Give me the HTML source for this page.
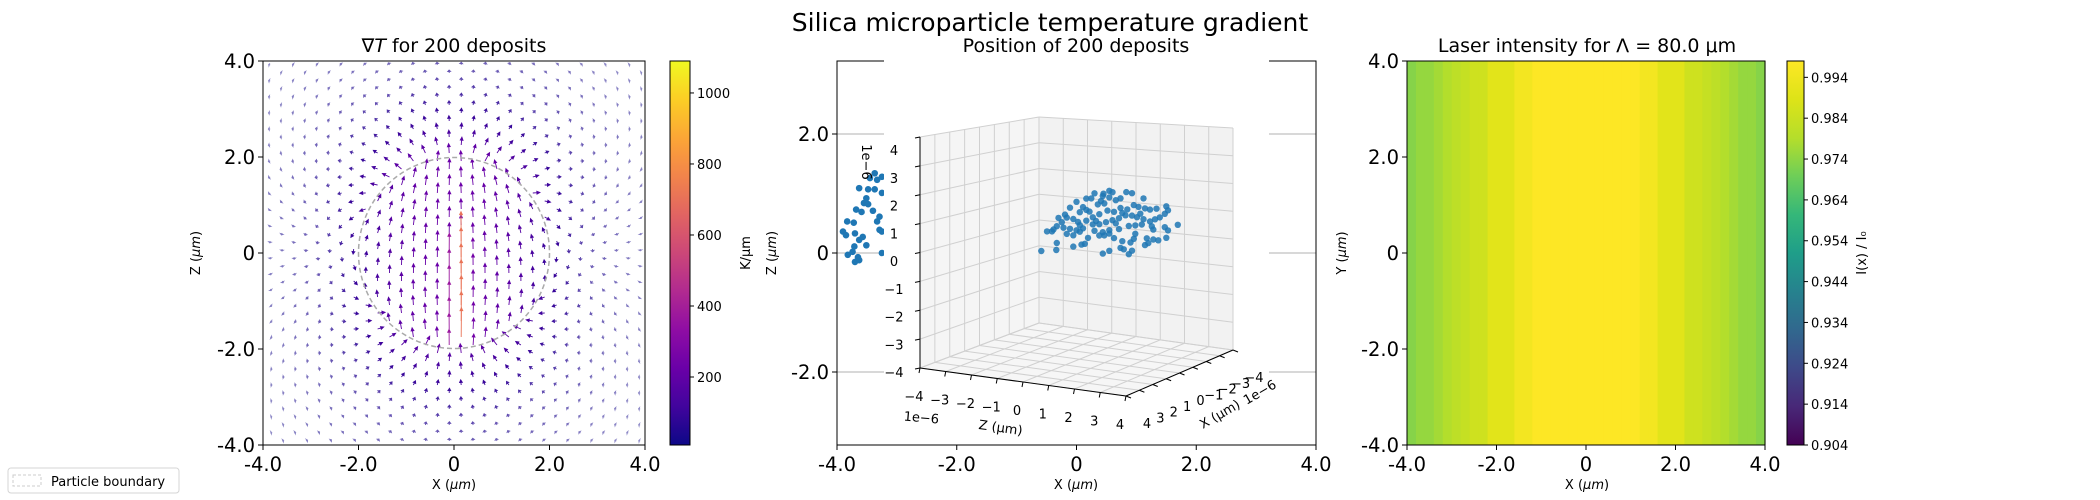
<!DOCTYPE html>
<html><head><meta charset="utf-8">
<style>
html,body{margin:0;padding:0;background:#fff;width:2100px;height:500px;overflow:hidden;}
svg{display:block;font-family:"DejaVu Sans","Liberation Sans",sans-serif;}
</style></head>
<body>
<svg id="fig" width="2100" height="500" viewBox="0 0 2100 500" xmlns="http://www.w3.org/2000/svg">
<defs>
<clipPath id="clipL"><rect x="263" y="61" width="382" height="384"/></clipPath>
<clipPath id="clipSide"><rect x="837" y="61" width="47" height="384"/></clipPath>
<linearGradient id="plasmaGrad" x1="0" y1="1" x2="0" y2="0">
<stop offset="0" stop-color="#0d0887"/><stop offset="0.1" stop-color="#41049d"/><stop offset="0.2" stop-color="#6a00a8"/><stop offset="0.3" stop-color="#8f0da4"/><stop offset="0.4" stop-color="#b12a90"/><stop offset="0.5" stop-color="#cc4778"/><stop offset="0.6" stop-color="#e16462"/><stop offset="0.7" stop-color="#f2844b"/><stop offset="0.8" stop-color="#fca636"/><stop offset="0.9" stop-color="#fcce25"/><stop offset="1" stop-color="#f0f921"/>
</linearGradient>
<linearGradient id="viridisGrad" x1="0" y1="1" x2="0" y2="0">
<stop offset="0" stop-color="#440154"/><stop offset="0.1" stop-color="#482878"/><stop offset="0.2" stop-color="#3e4989"/><stop offset="0.3" stop-color="#31688e"/><stop offset="0.4" stop-color="#26828e"/><stop offset="0.5" stop-color="#1f9e89"/><stop offset="0.6" stop-color="#35b779"/><stop offset="0.7" stop-color="#6ece58"/><stop offset="0.8" stop-color="#b5de2b"/><stop offset="0.9" stop-color="#dde318"/><stop offset="1" stop-color="#fde725"/>
</linearGradient>
</defs>

<text x="1050" y="31" font-size="25" text-anchor="middle">Silica microparticle temperature gradient</text>

<g id="leftPanel">
<text x="454" y="52" font-size="19" text-anchor="middle">∇<tspan font-style="italic">T</tspan> for 200 deposits</text>
<g id="quiver" clip-path="url(#clipL)"></g>
<circle cx="454" cy="253" r="95.5" fill="none" stroke="#aaaaaa" stroke-width="1.5" stroke-dasharray="5,3"/>
<rect x="263" y="61" width="382" height="384" fill="none" stroke="#000" stroke-width="1"/>
<text x="454" y="489" font-size="13" text-anchor="middle">X (<tspan font-style="italic">μm</tspan>)</text>
<text transform="translate(200,253) rotate(-90)" font-size="13" text-anchor="middle">Z (<tspan font-style="italic">μm</tspan>)</text>
<rect x="670" y="61" width="20" height="384" fill="url(#plasmaGrad)" stroke="#000" stroke-width="1"/>
<text transform="translate(750,253) rotate(-90)" font-size="13" text-anchor="middle">K/μm</text>
</g>

<g>
<rect x="8" y="468" width="171" height="25" rx="3" fill="#fff" stroke="#d5d5d5"/>
<rect x="13" y="475" width="28" height="11" fill="none" stroke="#cccccc" stroke-dasharray="3,2"/>
<text x="51" y="486" font-size="13">Particle boundary</text>
</g>

<g id="midPanel">
<g id="mid2d"></g>
<g id="sideScatter" clip-path="url(#clipSide)"></g>
<rect x="884" y="59" width="385" height="384" fill="#fff"/>
<g id="axes3d"></g>
<text x="1076" y="52" font-size="19" text-anchor="middle">Position of 200 deposits</text>
<text x="1076" y="489" font-size="13" text-anchor="middle">X (<tspan font-style="italic">μm</tspan>)</text>
<text transform="translate(776,253) rotate(-90)" font-size="13" text-anchor="middle">Z (<tspan font-style="italic">μm</tspan>)</text>
</g>

<g id="rightPanel">
<text x="1587" y="52" font-size="19" text-anchor="middle">Laser intensity for Λ = 80.0 μm</text>
<g id="heat"></g>
<rect x="1407" y="61" width="358" height="384" fill="none" stroke="#000" stroke-width="1"/>
<text x="1587" y="489" font-size="13" text-anchor="middle">X (<tspan font-style="italic">μm</tspan>)</text>
<text transform="translate(1346,253) rotate(-90)" font-size="13" text-anchor="middle">Y (<tspan font-style="italic">μm</tspan>)</text>
<rect x="1787" y="61" width="17" height="384" fill="url(#viridisGrad)" stroke="#000" stroke-width="1"/>
<text transform="translate(1866,253) rotate(-90)" font-size="13" text-anchor="middle">I(x) / I₀</text>
</g>
</svg>

<script>
const axisTicks = [-4, -2, 0, 2, 4];
const axisTickLabels = ['-4.0', '-2.0', '0', '2.0', '4.0'];
const midYTicks = [-2, 0, 2];
const midYTickLabels = ['-2.0', '0', '2.0'];
const gradCbTicks = [200, 400, 600, 800, 1000];
const gradCbRange = [8.5, 1090];
const laserCbTicks = [0.904, 0.914, 0.924, 0.934, 0.944, 0.954, 0.964, 0.974, 0.984, 0.994];
const laserCbRange = [0.904, 0.998];
const laserI = [0.973,0.975,0.975,0.977,0.979,0.981,0.983,0.985,0.985,0.990,0.990,0.990,0.995,0.995,
0.998,0.998,0.998,0.998,0.998,0.998,0.998,0.998,0.998,0.998,0.998,0.998,
0.995,0.995,0.990,0.990,0.990,0.985,0.985,0.983,0.981,0.979,0.977,0.975,0.975,0.973];
const fieldInside = [230];
const fieldSpike = [520];
const spikeZRange = [-2.0, 0.4];
const depZ = [0.60,0.96,1.19,1.32,1.87,2.10,2.56,1.64,1.45,0.86,0.99,0.73,0.47,-0.12,0.14,0.27,0.01,-0.38,-0.58,-0.51,-0.84,-0.25,-0.06,0.27,0.53,0.79,1.12,1.38,1.64,1.91,2.17,2.36,2.62,2.82,3.08,3.47,3.54,3.41,3.21,3.02,2.82,2.56,2.30,2.10,1.84,1.58,1.32,1.06,0.79,0.53,0.14,-0.12,-0.38,-0.64,-0.91,-1.04,-1.30,-1.10,-0.51,-0.25,0.01,0.60,0.93,1.19,1.58,1.97,2.23,2.49,2.89,2.95,3.41,3.54,3.93,2.69,2.75,2.95,3.15,3.47,2.23,2.17,2.04,1.71,1.64,1.77,1.97,2.10,1.38,1.19,0.99,0.79,0.34,0.21,0.08,-0.25,-0.91,-0.93,-1.53,0.93,1.19,2.62,-0.71,0.40,0.66,1.45,0.01,2.43,1.71,1.19,0.93,0.27];
const depY = [1.91,1.92,2.04,2.00,2.04,2.02,1.87,1.81,1.73,1.66,1.58,1.53,1.72,1.56,1.39,1.30,1.20,1.33,1.07,0.97,0.93,0.94,0.85,0.92,1.06,1.19,1.34,1.32,1.47,1.44,1.61,1.56,1.53,1.50,1.55,1.66,1.53,1.40,1.26,1.18,1.09,1.15,1.20,1.24,1.23,1.11,1.02,0.93,0.84,0.81,0.64,0.55,0.58,0.60,0.63,0.50,0.41,0.43,0.39,0.36,0.51,0.59,0.57,0.66,0.73,0.87,0.91,0.96,0.93,0.82,0.94,0.84,1.06,0.50,0.34,0.48,0.47,0.58,0.62,0.44,0.30,0.32,0.08,0.04,-0.11,0.02,0.40,0.54,0.46,0.44,0.32,0.10,0.06,-0.04,0.03,-0.22,-0.31,-0.18,-0.06,0.26,0.79,1.25,0.94,0.92,0.74,1.33,1.30,1.81,1.84,1.70];
const sideX = [-3.63,-3.48,-3.37,-3.25,-3.45,-3.33,-3.25,-3.51,-3.55,-3.48,-3.68,-3.59,-3.40,-3.33,-3.29,-3.83,-3.72,-3.90,-3.85,-3.70,-3.57,-3.63,-3.29,-3.25,-3.71,-3.74,-3.51,-3.82,-3.65,-3.70,-3.63,-3.25,-3.37];
const sideY = [1.09,1.07,1.07,1.01,1.26,1.23,1.28,0.92,0.84,0.82,0.73,0.69,0.71,0.53,0.61,0.53,0.51,0.36,0.30,0.33,0.27,0.22,0.39,0.36,0.11,0.02,0.13,-0.03,-0.07,-0.15,-0.12,0.00,1.34];
const ticks3d = [-4,-3,-2,-1,0,1,2,3,4];
const tickLabels3d = ['−4','−3','−2','−1','0','1','2','3','4'];

const NS = 'http://www.w3.org/2000/svg';
function mk(tag, attrs, parent) {
  const e = document.createElementNS(NS, tag);
  for (const k in attrs) e.setAttribute(k, attrs[k]);
  parent.appendChild(e);
  return e;
}
function lerpStops(stops, t) {
  t = Math.max(0, Math.min(1, t));
  const n = stops.length - 1, f = t * n, i = Math.min(n - 1, Math.floor(f)), u = f - i;
  const a = stops[i], b = stops[i + 1];
  const c = [0,1,2].map(k => Math.round(a[k] + (b[k] - a[k]) * u));
  return 'rgb(' + c.join(',') + ')';
}
const PLASMA = [[13,8,135],[65,4,157],[106,0,168],[143,13,164],[177,42,144],[204,71,120],[225,100,98],[242,132,75],[252,166,54],[252,206,37],[240,249,33]];
const VIRIDIS = [[68,1,84],[72,40,120],[62,73,137],[49,104,142],[38,130,142],[31,158,137],[53,183,121],[110,206,88],[181,222,43],[221,227,24],[253,231,37]];

const L = {x0:263, x1:645, y0:61, y1:445};
const lx = v => L.x0 + (v + 4) / 8 * (L.x1 - L.x0);
const ly = v => L.y1 - (v + 4) / 8 * (L.y1 - L.y0);
const leftPanel = document.getElementById('leftPanel');
axisTicks.forEach((t, i) => {
  let e = mk('line', {x1:lx(t), x2:lx(t), y1:L.y1, y2:L.y1+5, stroke:'#000'}, leftPanel);
  
  
  e = mk('text', {x:lx(t), y:471, 'font-size':19.5, 'text-anchor':'middle'}, leftPanel);
  e.textContent = axisTickLabels[i];
  
  
  e = mk('line', {x1:L.x0-5, x2:L.x0, y1:ly(t), y2:ly(t), stroke:'#000'}, leftPanel);
  
  
  e = mk('text', {x:L.x0-8, y:ly(t)+7, 'font-size':19.5, 'text-anchor':'end'}, leftPanel);
  e.textContent = axisTickLabels[i];
  
  
});
const cbY = v => 445 - (v - gradCbRange[0]) / (gradCbRange[1] - gradCbRange[0]) * 384;
gradCbTicks.forEach(t => {
  let e = mk('line', {x1:690, x2:694, y1:cbY(t), y2:cbY(t), stroke:'#000'}, leftPanel);
  
  
  e = mk('text', {x:697, y:cbY(t)+5, 'font-size':13}, leftPanel);
  e.textContent = String(t);
  
  
});
const quiver = document.getElementById('quiver');
function field(x, z) {
  const r = Math.hypot(x, z), R = 2;
  let u, w;
  if (r < R) {
    u = -0.12 * x * fieldInside[0] * (z + 0.5);
    w = fieldInside[0] * (1 - 0.15 * x * x);
  } else {
    const k = fieldInside[0] * Math.pow(R / r, 2.4);
    const cz = z / r, rx = x / r, rz = z / r;
    u = k * (1.5 * cz * rx);
    w = k * (1.5 * cz * rz - 0.5);
  }
  if (z > spikeZRange[0] && z < spikeZRange[1]) {
    const g = Math.exp(-(x - 0.1) * (x - 0.1) / 0.03);
    w += fieldSpike[0] * g;
  }
  return [u, w];
}
for (let j = 0; j < 48; j++) {
  const z = 4 - (4 + 8 * j) / 48;
  for (let i = 0; i < 17; i++) {
    const x = -4 + 0.15 + i * 0.5 + (j % 2) * 0.25;
    if (x > 4) continue;
    const [u, w] = field(x, z);
    const mag = Math.hypot(u, w);
    const len = Math.min(1 + 0.04 * mag, 45);
    const dx = u / (mag || 1), dz = w / (mag || 1);
    const px = lx(x), py = ly(z);
    const tx = px + dx * len, ty = py - dz * len;
    const col = lerpStops(PLASMA, (mag - gradCbRange[0]) / (gradCbRange[1] - gradCbRange[0]));
    const hl = Math.min(3, len * 0.5), hw = 1.4;
    const bx = tx - dx * hl, by = ty + dz * hl;
    const nx = dz, ny = dx;
    const d = 'M' + px.toFixed(1) + ',' + py.toFixed(1) + 'L' + bx.toFixed(1) + ',' + by.toFixed(1) +
      'M' + (bx + nx * hw).toFixed(1) + ',' + (by + ny * hw).toFixed(1) + 'L' + tx.toFixed(1) + ',' + ty.toFixed(1) +
      'L' + (bx - nx * hw).toFixed(1) + ',' + (by - ny * hw).toFixed(1) + 'Z';
    const op = Math.min(1, 0.35 + mag / 150);
    const a = mk('path', {d:d, stroke:col, 'stroke-width':0.9, fill:col, opacity:op.toFixed(2)}, quiver);
    
    
  }
}

const M = {x0:837, x1:1316, y0:61, y1:445};
const mx = v => M.x0 + (v + 4) / 8 * (M.x1 - M.x0);
const my = v => 253 - v * 59.5;
const mid2d = document.getElementById('mid2d');
midYTicks.forEach((t, i) => {
  let e = mk('line', {x1:M.x0, x2:M.x1, y1:my(t), y2:my(t), stroke:'#b0b0b0', 'stroke-width':1}, mid2d);
  
  
  e = mk('line', {x1:M.x0-5, x2:M.x0, y1:my(t), y2:my(t), stroke:'#000'}, mid2d);
  
  
  e = mk('text', {x:M.x0-8, y:my(t)+7, 'font-size':19.5, 'text-anchor':'end'}, mid2d);
  e.textContent = midYTickLabels[i];
  
  
});
axisTicks.forEach((t, i) => {
  let e = mk('line', {x1:mx(t), x2:mx(t), y1:M.y1, y2:M.y1+5, stroke:'#000'}, mid2d);
  
  
  e = mk('text', {x:mx(t), y:471, 'font-size':19.5, 'text-anchor':'middle'}, mid2d);
  e.textContent = axisTickLabels[i];
  
  
});
let fr = mk('rect', {x:M.x0, y:M.y0, width:M.x1-M.x0, height:M.y1-M.y0, fill:'none', stroke:'#000'}, mid2d);


const side = document.getElementById('sideScatter');
sideX.forEach((v, i) => {
  const c = mk('circle', {cx:mx(v), cy:my(sideY[i]), r:3.3, fill:'#1f77b4'}, side);
  
  
});
const ax3 = document.getElementById('axes3d');
const C = {
  '000':[920,368], '100':[1126,396], '110':[1233,350], '010':[1039,323],
  '001':[920,137], '011':[1039,117], '111':[1233,128], '101':[1126,150]
};
function proj(h, d, v) {
  const t = (h + 4) / 8, u = (4 - d) / 8, s = (v + 4) / 8;
  const P = (k) => C[k];
  const L2 = (a, b, f) => [a[0] + (b[0] - a[0]) * f, a[1] + (b[1] - a[1]) * f];
  const b0 = L2(L2(P('000'), P('100'), t), L2(P('010'), P('110'), t), u);
  const b1 = L2(L2(P('001'), P('101'), t), L2(P('011'), P('111'), t), u);
  return L2(b0, b1, s);
}
function poly(pts, fill, name) {
  const e = mk('polygon', {points: pts.map(p => p.join(',')).join(' '), fill: fill, stroke:'none'}, ax3);
  
  
}
poly([proj(-4,4,-4), proj(-4,-4,-4), proj(-4,-4,4), proj(-4,4,4)], '#f5f5f5', 'left-pane');
poly([proj(-4,-4,-4), proj(4,-4,-4), proj(4,-4,4), proj(-4,-4,4)], '#f2f2f2', 'back-pane');
poly([proj(-4,4,-4), proj(4,4,-4), proj(4,-4,-4), proj(-4,-4,-4)], '#f6f6f6', 'floor-pane');
function gl(a, b, name, col, w) {
  const e = mk('line', {x1:a[0], y1:a[1], x2:b[0], y2:b[1], stroke:col||'#d0d0d0', 'stroke-width':w||1}, ax3);
  
  
}
ticks3d.forEach(t => {
  gl(proj(-4,t,-4), proj(-4,t,4), 'grid-3d');
  gl(proj(-4,4,t), proj(-4,-4,t), 'grid-3d');
  gl(proj(t,-4,-4), proj(t,-4,4), 'grid-3d');
  gl(proj(-4,-4,t), proj(4,-4,t), 'grid-3d');
  gl(proj(t,4,-4), proj(t,-4,-4), 'grid-3d');
  gl(proj(-4,t,-4), proj(4,t,-4), 'grid-3d');
});
gl(proj(-4,4,-4), proj(-4,4,4), 'vertical-axis-line', '#000', 1);
gl(proj(-4,4,-4), proj(4,4,-4), 'z-axis-line', '#000', 1);
gl(proj(4,4,-4), proj(4,-4,-4), 'x-axis-line', '#000', 1);
ticks3d.forEach((t, i) => {
  let p = proj(-4,4,t);
  gl(p, [p[0]-5, p[1]+1], 'vertical-tick', '#000', 1);
  let e = mk('text', {x:894, y:372 - (t + 4) / 8 * 222 + 5, 'font-size':13, 'text-anchor':'middle'}, ax3);
  e.textContent = tickLabels3d[i];
  
  
  p = proj(t,4,-4);
  gl(p, [p[0]-1, p[1]+5], 'z-tick', '#000', 1);
  e = mk('text', {x:p[0]-6, y:p[1]+33, 'font-size':13, 'text-anchor':'middle'}, ax3);
  e.textContent = tickLabels3d[i];
  
  
  p = proj(4,t,-4);
  gl(p, [p[0]+5, p[1]+2], 'x-tick', '#000', 1);
  e = mk('text', {x:p[0]+21, y:p[1]+32, 'font-size':13, 'text-anchor':'middle'}, ax3);
  e.textContent = tickLabels3d[i];
  
  
});
depZ.forEach((h, i) => {
  const p = proj(h, 0, depY[i]);
  const c = mk('circle', {cx:p[0].toFixed(1), cy:p[1].toFixed(1), r:3.2, fill:'#1f77b4', 'fill-opacity':0.85}, ax3);
  
  
});
function t3(str, x, y, rot, name) {
  const e = mk('text', {transform:'translate(' + x + ',' + y + ') rotate(' + rot + ')', 'font-size':13, 'text-anchor':'middle'}, ax3);
  e.textContent = str;
  
  
}
t3('1e−6', 862, 162, 90, 'vertical-offset-label');
t3('1e−6', 921, 422, 5, 'z-offset-label');
t3('1e−6', 1262, 396, -30, 'x-offset-label');
t3('Z (μm)', 1000, 432, 8, 'z-axis-3d-title');
t3('X (μm)', 1222, 418, -30, 'x-axis-3d-title');

const R = {x0:1407, x1:1765, y0:61, y1:445};
const rx = v => R.x0 + (v + 4) / 8 * (R.x1 - R.x0);
const ry = v => R.y1 - (v + 4) / 8 * (R.y1 - R.y0);
const heat = document.getElementById('heat');
const cw = 8 / laserI.length;
laserI.forEach((val, i) => {
  const x0 = rx(-4 + i * cw), x1 = rx(-4 + (i + 1) * cw);
  const col = lerpStops(VIRIDIS, (val - laserCbRange[0]) / (laserCbRange[1] - laserCbRange[0]));
  const r = mk('rect', {x:x0, y:R.y0, width:(x1 - x0 + 0.6), height:R.y1 - R.y0, fill:col}, heat);
  
  
});
const rightPanel = document.getElementById('rightPanel');
axisTicks.forEach((t, i) => {
  let e = mk('line', {x1:rx(t), x2:rx(t), y1:R.y1, y2:R.y1+5, stroke:'#000'}, rightPanel);
  
  
  e = mk('text', {x:rx(t), y:471, 'font-size':19.5, 'text-anchor':'middle'}, rightPanel);
  e.textContent = axisTickLabels[i];
  
  
  e = mk('line', {x1:R.x0-5, x2:R.x0, y1:ry(t), y2:ry(t), stroke:'#000'}, rightPanel);
  
  
  e = mk('text', {x:R.x0-8, y:ry(t)+7, 'font-size':19.5, 'text-anchor':'end'}, rightPanel);
  e.textContent = axisTickLabels[i];
  
  
});
const lcbY = v => 445 - (v - laserCbRange[0]) / (laserCbRange[1] - laserCbRange[0]) * 384;
laserCbTicks.forEach(t => {
  let e = mk('line', {x1:1804, x2:1808, y1:lcbY(t), y2:lcbY(t), stroke:'#000'}, rightPanel);
  
  
  e = mk('text', {x:1811, y:lcbY(t)+5, 'font-size':13}, rightPanel);
  e.textContent = t.toFixed(3);
  
  
});
</script>
</body></html>
